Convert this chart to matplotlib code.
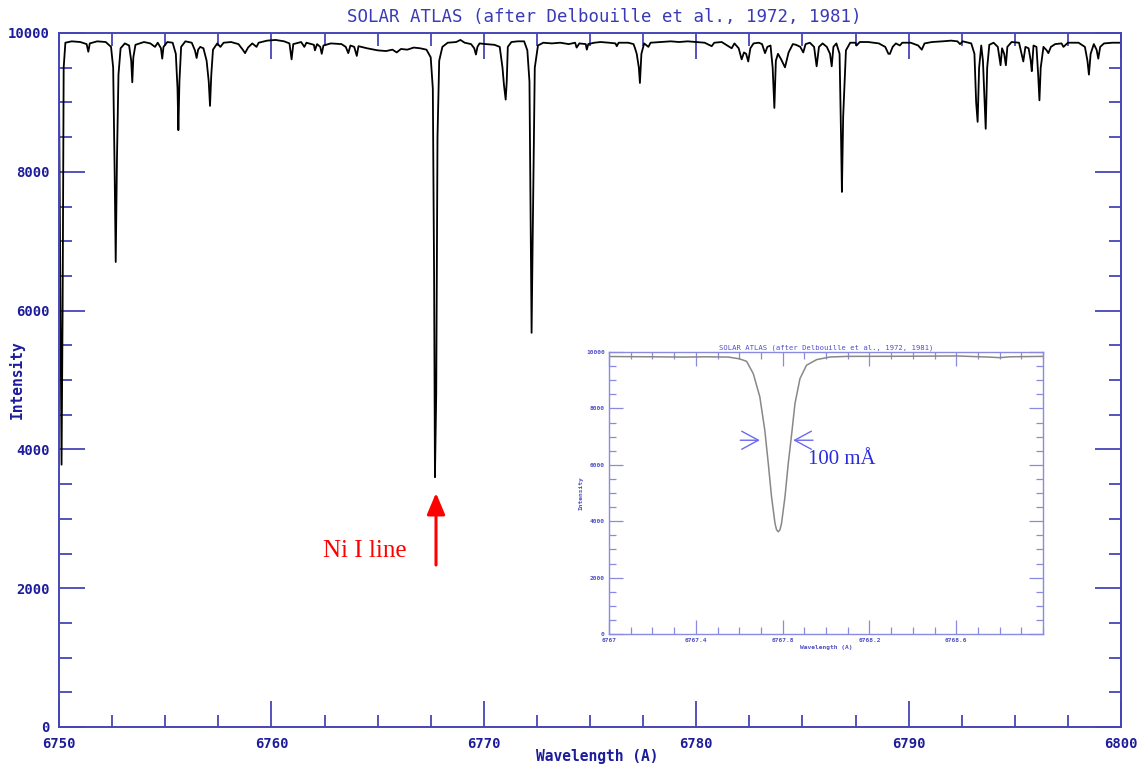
import matplotlib
matplotlib.use("Agg")
import matplotlib.pyplot as plt
from matplotlib.ticker import MultipleLocator, FixedLocator

# spectrum: (wavelength in A, intensity)
seg_6750 = [
    (6750.00, 9180), (6750.08, 5500), (6750.12, 3780), (6750.17, 6000), (6750.22, 9500),
    (6750.30, 9860), (6750.60, 9880), (6751.00, 9870), (6751.30, 9840), (6751.38, 9730),
    (6751.45, 9850), (6751.80, 9880), (6752.20, 9870), (6752.45, 9800), (6752.55, 9500),
    (6752.62, 8000), (6752.67, 6700), (6752.73, 8200), (6752.80, 9400), (6752.90, 9780),
    (6753.10, 9850), (6753.30, 9820), (6753.40, 9600), (6753.45, 9290), (6753.50, 9650),
    (6753.60, 9830), (6754.00, 9870), (6754.30, 9850), (6754.52, 9800), (6754.65, 9860),
    (6754.80, 9780), (6754.86, 9630), (6754.92, 9800), (6755.10, 9870), (6755.35, 9860),
    (6755.50, 9700), (6755.58, 9200), (6755.62, 8600), (6755.67, 9300), (6755.75, 9800),
    (6755.95, 9880), (6756.25, 9860), (6756.40, 9750), (6756.48, 9640), (6756.55, 9760),
    (6756.65, 9800), (6756.80, 9780), (6756.95, 9600), (6757.05, 9300), (6757.11, 8950),
    (6757.17, 9400), (6757.25, 9760), (6757.45, 9850), (6757.60, 9800), (6757.75, 9860),
    (6758.10, 9870), (6758.45, 9840), (6758.65, 9760), (6758.76, 9710), (6758.90, 9790),
    (6759.10, 9850), (6759.30, 9800), (6759.40, 9860), (6759.80, 9890),
]
seg_6760 = [
    (6760.20, 9900), (6760.60, 9880), (6760.85, 9850), (6760.95, 9620), (6761.03, 9840),
    (6761.40, 9870), (6761.55, 9800), (6761.65, 9860), (6762.00, 9830), (6762.05, 9750),
    (6762.15, 9840), (6762.30, 9800), (6762.37, 9700), (6762.45, 9820), (6762.80, 9850),
    (6763.30, 9840), (6763.50, 9800), (6763.62, 9710), (6763.72, 9820), (6763.90, 9800),
    (6764.02, 9670), (6764.10, 9810), (6764.50, 9780), (6765.00, 9750), (6765.40, 9740),
    (6765.70, 9760), (6765.90, 9720), (6766.10, 9770), (6766.40, 9760), (6766.70, 9790),
    (6767.00, 9780), (6767.30, 9760), (6767.50, 9650), (6767.60, 9200), (6767.66, 6500),
    (6767.70, 3600), (6767.76, 4800), (6767.82, 8500), (6767.90, 9600), (6768.05, 9800),
    (6768.30, 9860), (6768.70, 9870), (6768.90, 9900), (6769.10, 9860), (6769.40, 9840),
    (6769.55, 9780), (6769.63, 9690), (6769.70, 9800), (6769.80, 9850),
]
seg_6770 = [
    (6770.10, 9840), (6770.50, 9830), (6770.75, 9800), (6770.88, 9500), (6770.95, 9250),
    (6771.03, 9040), (6771.08, 9300), (6771.13, 9800), (6771.30, 9870), (6771.60, 9880),
    (6771.90, 9880), (6772.05, 9750), (6772.15, 9300), (6772.20, 7500), (6772.25, 5680),
    (6772.30, 7000), (6772.40, 9500), (6772.55, 9820), (6772.80, 9860), (6773.20, 9850),
    (6773.60, 9860), (6774.00, 9840), (6774.30, 9860), (6774.37, 9790), (6774.50, 9850),
    (6774.80, 9840), (6774.85, 9760), (6774.92, 9840), (6775.20, 9860), (6775.50, 9870),
    (6775.90, 9860), (6776.20, 9850), (6776.26, 9810), (6776.35, 9860), (6776.80, 9860),
    (6777.05, 9840), (6777.12, 9780), (6777.20, 9700), (6777.30, 9500), (6777.35, 9280),
    (6777.42, 9700), (6777.55, 9850), (6777.75, 9800), (6777.85, 9860), (6778.30, 9870),
    (6778.80, 9880), (6779.20, 9870), (6779.60, 9880),
]
seg_6780 = [
    (6780.00, 9870), (6780.40, 9860), (6780.73, 9810), (6780.85, 9860), (6781.20, 9870),
    (6781.67, 9780), (6781.80, 9850), (6782.00, 9780), (6782.14, 9620), (6782.25, 9720),
    (6782.35, 9700), (6782.45, 9590), (6782.55, 9780), (6782.70, 9850), (6782.95, 9860),
    (6783.10, 9840), (6783.24, 9710), (6783.35, 9800), (6783.50, 9820), (6783.60, 9500),
    (6783.68, 8920), (6783.75, 9600), (6783.85, 9700), (6784.00, 9620), (6784.18, 9505),
    (6784.35, 9720), (6784.55, 9840), (6784.70, 9830), (6784.90, 9800), (6785.04, 9720),
    (6785.15, 9840), (6785.35, 9860), (6785.55, 9800), (6785.67, 9520), (6785.78, 9800),
    (6785.95, 9850), (6786.15, 9800), (6786.30, 9700), (6786.38, 9520), (6786.46, 9800),
    (6786.60, 9850), (6786.75, 9700), (6786.82, 8500), (6786.86, 7710), (6786.92, 8800),
    (6787.05, 9750), (6787.25, 9860), (6787.50, 9860), (6787.55, 9820), (6787.70, 9870),
    (6788.10, 9870), (6788.60, 9850), (6788.90, 9800), (6789.05, 9700), (6789.12, 9700),
    (6789.25, 9800), (6789.40, 9850), (6789.59, 9820), (6789.70, 9860),
]
seg_6790 = [
    (6790.10, 9860), (6790.45, 9820), (6790.62, 9760), (6790.75, 9850), (6791.10, 9870),
    (6791.60, 9880), (6792.00, 9890), (6792.30, 9880), (6792.42, 9840), (6792.55, 9880),
    (6792.95, 9850), (6793.10, 9700), (6793.18, 9000), (6793.25, 8720), (6793.32, 9500),
    (6793.42, 9820), (6793.50, 9600), (6793.58, 9000), (6793.63, 8620), (6793.70, 9500),
    (6793.80, 9830), (6794.00, 9860), (6794.20, 9800), (6794.30, 9600), (6794.33, 9535),
    (6794.40, 9780), (6794.50, 9700), (6794.58, 9535), (6794.65, 9800), (6794.85, 9870),
    (6795.20, 9860), (6795.32, 9700), (6795.40, 9590), (6795.50, 9800), (6795.65, 9780),
    (6795.75, 9600), (6795.80, 9450), (6795.88, 9820), (6796.02, 9800), (6796.10, 9400),
    (6796.16, 9030), (6796.22, 9500), (6796.35, 9800), (6796.50, 9750), (6796.58, 9710),
    (6796.70, 9800), (6796.90, 9840), (6797.20, 9850), (6797.29, 9800), (6797.50, 9860),
    (6798.00, 9860), (6798.30, 9800), (6798.42, 9600), (6798.49, 9400), (6798.57, 9700),
    (6798.72, 9840), (6798.85, 9760), (6798.93, 9630), (6799.02, 9800), (6799.20, 9850),
    (6799.60, 9860), (6800.00, 9860),
]

# zoom on the Ni I line (inset)
inset_wave = [6767.00, 6767.20, 6767.35, 6767.45, 6767.55, 6767.60, 6767.634, 6767.665,
              6767.695, 6767.718, 6767.734, 6767.749, 6767.765, 6767.772, 6767.780,
              6767.788, 6767.795, 6767.811, 6767.826, 6767.842, 6767.857, 6767.880,
              6767.910, 6767.957, 6768.018, 6768.10, 6768.40, 6768.60, 6768.75, 6768.80,
              6768.85, 6769.00]
inset_flux = [9840, 9830, 9820, 9830, 9820, 9760, 9670, 9230,
              8410, 7225, 6045, 4865, 3920, 3700, 3625,
              3700, 3920, 4865, 6045, 7110, 8170, 9055,
              9530, 9730, 9823, 9845, 9850, 9860, 9820, 9800,
              9830, 9845]

title = "SOLAR ATLAS (after Delbouille et al., 1972, 1981)"

AX = "#4545b8"
LAB = "#1c1c9c"
MONO = "DejaVu Sans Mono"

spec = seg_6750 + seg_6760 + seg_6770 + seg_6780 + seg_6790
wave = [p[0] for p in spec]
flux = [p[1] for p in spec]

fig = plt.figure(figsize=(11.46, 7.67), dpi=100)
ax = fig.add_axes([59/1146, 1-727/767, 1062/1146, 694/767])
ax.plot(wave, flux, color="black", lw=1.3)
ax.set_xlim(6750, 6800)
ax.set_ylim(0, 10000)

ax.xaxis.set_major_locator(MultipleLocator(10))
ax.xaxis.set_minor_locator(MultipleLocator(2.5))
ax.yaxis.set_major_locator(MultipleLocator(2000))
ax.yaxis.set_minor_locator(MultipleLocator(500))
ax.tick_params(which="both", direction="in", top=True, right=True, color=AX, width=1.3)
ax.tick_params(which="major", length=19, pad=7, labelsize=10, labelcolor=LAB)
ax.tick_params(which="minor", length=9)
for lab in ax.get_xticklabels() + ax.get_yticklabels():
    lab.set_family(MONO)
    lab.set_fontweight("bold")
for s in ax.spines.values():
    s.set_color(AX)
    s.set_linewidth(1.4)
ax.set_xlabel("Wavelength (A)", family=MONO, weight="bold", fontsize=10.5, color=LAB)
ax.set_ylabel("Intensity", family=MONO, weight="bold", fontsize=10.5, color=LAB)
ax.xaxis.set_label_coords((597 - 59) / 1062, (727 - 757) / 694)
ax.yaxis.set_label_coords((17 - 59) / 1062, 0.5)
ax.xaxis.label.set_va("center")
ax.yaxis.label.set_va("center")
fig.text(604/1146, 1-17/767, title, family=MONO, fontsize=12.5, color="#3a3ab8",
         ha="center", va="center")

# red arrow + label at the Ni I line
ax.annotate("", xy=(6767.75, 3372), xytext=(6767.75, 2334),
            arrowprops=dict(arrowstyle="-|>,head_length=1.3,head_width=0.55",
                            color="red", lw=2.2, shrinkA=0, shrinkB=0))
ax.text(6762.43, 2536, "Ni I line", family="Liberation Serif", fontsize=18,
        color="red", ha="left", va="center")

# inset
IAX = "#8a8ae0"
ILAB = "#5050c8"
axi = fig.add_axes([609/1146, 1-634/767, 434/1146, 282/767])
axi.plot(inset_wave, inset_flux, color="#888888", lw=1.1)
axi.set_xlim(6767, 6769)
axi.set_ylim(0, 10000)
axi.xaxis.set_major_locator(FixedLocator([6767, 6767.4, 6767.8, 6768.2, 6768.6]))
axi.xaxis.set_minor_locator(MultipleLocator(0.1))
axi.yaxis.set_major_locator(MultipleLocator(2000))
axi.yaxis.set_minor_locator(MultipleLocator(500))
axi.set_xticklabels(["6767", "6767.4", "6767.8", "6768.2", "6768.6"])
axi.tick_params(which="both", direction="in", top=True, right=True, color=IAX, width=0.9)
axi.tick_params(which="major", length=10, pad=3, labelsize=4.5, labelcolor=ILAB)
axi.tick_params(which="minor", length=5)
for lab in axi.get_xticklabels() + axi.get_yticklabels():
    lab.set_family(MONO)
    lab.set_fontweight("bold")
for s in axi.spines.values():
    s.set_color(IAX)
    s.set_linewidth(1.0)
axi.set_xlabel("Wavelength (A)", family=MONO, weight="bold", fontsize=4.5, color=ILAB, labelpad=1)
axi.set_ylabel("Intensity", family=MONO, weight="bold", fontsize=4.5, color=ILAB, labelpad=2)
axi.set_title(title, family=MONO, fontsize=5.2, color=ILAB, pad=2)

arrow_blue = "#6a6af0"
axi.annotate("", xy=(6767.695, 6871), xytext=(6767.605, 6871),
             arrowprops=dict(arrowstyle="->,head_length=1.2,head_width=0.65",
                             color=arrow_blue, lw=1.0, shrinkA=0, shrinkB=0))
axi.annotate("", xy=(6767.849, 6871), xytext=(6767.94, 6871),
             arrowprops=dict(arrowstyle="->,head_length=1.2,head_width=0.65",
                             color=arrow_blue, lw=1.0, shrinkA=0, shrinkB=0))
fig.text(808/1146, 1-459/767, "100 mÅ", family="Liberation Serif", fontsize=15,
         color="#2a2ae0", ha="left", va="center")

fig.savefig("out.png", dpi=100)
